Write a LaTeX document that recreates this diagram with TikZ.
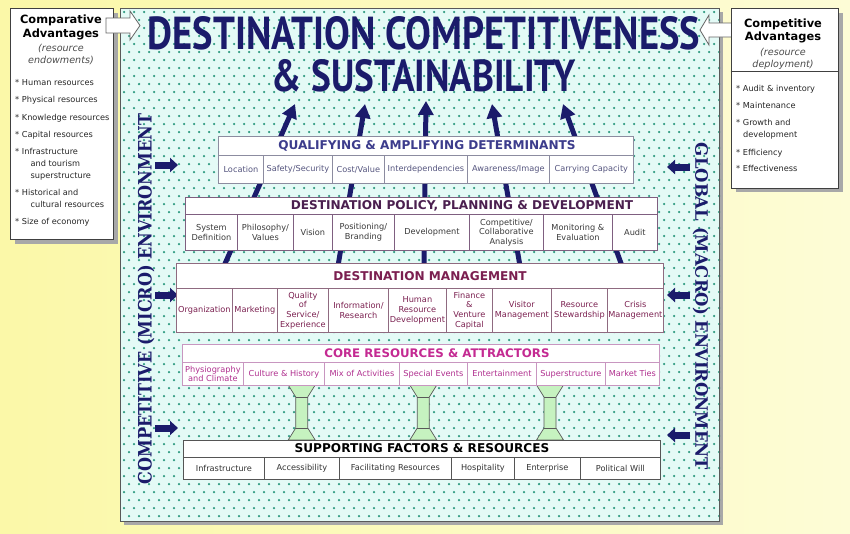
\documentclass[tikz,border=0pt]{standalone}
\usepackage{fontspec}
\usepackage{graphicx}
\setmainfont{DejaVu Sans}
\newfontfamily\titlefont{PT Sans}
\newfontfamily\sidefont{DejaVu Serif}
\usetikzlibrary{arrows.meta}
\definecolor{navy}{HTML}{1B1B6B}
\definecolor{bgl}{HTML}{FBF8A8}
\definecolor{bgr}{HTML}{FDFCD6}
\definecolor{panelfill}{HTML}{E4FAF6}
\definecolor{dotc}{HTML}{2E9A80}
\definecolor{shadowc}{HTML}{A8A8A8}
\definecolor{qline}{HTML}{8C8CA0}
\definecolor{qtext}{HTML}{55557F}
\definecolor{qhead}{HTML}{3C3C8C}
\definecolor{pline}{HTML}{7F5F80}
\definecolor{ptext}{HTML}{3A3A3A}
\definecolor{phead}{HTML}{4B1F4F}
\definecolor{mline}{HTML}{8F6A80}
\definecolor{mtext}{HTML}{7B2050}
\definecolor{mhead}{HTML}{7B1F50}
\definecolor{cline}{HTML}{C896C0}
\definecolor{ctext}{HTML}{B0308F}
\definecolor{chead}{HTML}{C42A92}
\definecolor{sline}{HTML}{555555}
\definecolor{stext}{HTML}{333333}
\definecolor{pillarc}{HTML}{C6F2C0}
\tikzset{
  cellfont/.style={font=\fontsize{8.2}{9.6}\selectfont},
  hdrfont/.style={font=\fontsize{12.1}{14}\selectfont\bfseries},
  bandbox/.style={draw=#1, fill=white, line width=0.8pt, inner sep=0pt, anchor=north west},
  bandcell/.style={bandbox=#1, cellfont, align=center},
  hdrtext/.style={hdrfont, inner sep=0pt},
  fanarrow/.style={draw=navy, line width=5pt, -{Triangle[length=14pt,width=15pt]}},
  smallarrow/.style={draw=navy, line width=7pt, -{Triangle[length=8pt,width=14pt]}},
  blockarrow/.style={draw=gray!80!black, fill=white, line width=0.8pt, line join=miter},
  sidebox/.style={draw=black!75, fill=white, line width=0.8pt, inner sep=0pt, anchor=north west},
  sidehead/.style={font=\fontsize{11.4}{13}\selectfont\bfseries, anchor=base, inner sep=0pt},
  sidesub/.style={font=\fontsize{9.6}{11}\selectfont\itshape, text=black!70, anchor=base, inner sep=0pt},
  sideitem/.style={font=\fontsize{8.2}{10}\selectfont, text=black!85, anchor=base west, inner sep=0pt},
  pillar/.style={draw=black!65, fill=pillarc, line width=0.7pt, line join=round},
}
\begin{document}
\begin{tikzpicture}[x=1pt,y=-1pt]
\useasboundingbox (0,0) rectangle (850,533);
\shade[left color=bgl, right color=bgr] (0,0) rectangle (850,533);

% main panel
\fill[shadowc] (124,12) rectangle (723,525);
\fill[panelfill] (120,8) rectangle (719,521);
\foreach \r in {0,...,63}{
  \foreach \c in {0,...,59}{
    \fill[dotc] ({124+\c*10+mod(\r,2)*5},{12+\r*8}) circle (1.25pt);
  }
}
\draw[gray!70!black, line width=0.8pt] (120,8) rectangle (719,521);

% title
\node[inner sep=0pt, text=navy, font=\titlefont\bfseries] (t1) at (424,33.5)
  {\resizebox{552pt}{33pt}{DESTINATION COMPETITIVENESS}};
\node[inner sep=0pt, text=navy, font=\titlefont\bfseries] (t2) at (423.5,76)
  {\resizebox{303pt}{32pt}{\& SUSTAINABILITY}};

% fan arrows (behind the boxes)
\coordinate (s1) at (224,266); \coordinate (e1) at (295,104);
\coordinate (s2) at (338,266); \coordinate (e2) at (365,104);
\coordinate (s3) at (424,266); \coordinate (e3) at (426,101);
\coordinate (s4) at (520,266); \coordinate (e4) at (492,104);
\coordinate (s5) at (622,266); \coordinate (e5) at (563,104);
\foreach \k in {1,...,5}{\draw[fanarrow] (s\k) -- (e\k);}

% side texts
\node[rotate=90, inner sep=0pt, text=navy, font=\sidefont\bfseries] (lside) at (146,299)
  {\resizebox{370pt}{14pt}{COMPETITIVE (MICRO) ENVIRONMENT}};
\node[rotate=-90, inner sep=0pt, text=navy, font=\sidefont\bfseries] (rside) at (700.5,306.5)
  {\resizebox{327pt}{13pt}{GLOBAL (MACRO) ENVIRONMENT}};

% small arrows
\foreach \y [count=\k] in {165,295,428}{
  \coordinate (la\k) at (155,\y); \coordinate (lb\k) at (178,\y);
  \draw[smallarrow] (la\k) -- (lb\k);
}
\foreach \y [count=\k] in {167,295,435}{
  \coordinate (ra\k) at (690,\y); \coordinate (rb\k) at (667,\y);
  \draw[smallarrow] (ra\k) -- (rb\k);
}

% pillars
\foreach \cx [count=\k] in {301.7,423.3,550}{
  \draw[pillar] ({\cx-13.5},385) -- ({\cx+13.5},385) -- ({\cx+6},397) -- ({\cx+6},428)
     -- ({\cx+13.5},440) -- ({\cx-13.5},440) -- ({\cx-6},428) -- ({\cx-6},397) -- cycle;
  \draw[draw=black!65, line width=0.7pt] ({\cx-6},397) -- ({\cx+6},397);
  \draw[draw=black!65, line width=0.7pt] ({\cx-6},428) -- ({\cx+6},428);
}

% ---------- Qualifying & Amplifying Determinants
\node[bandbox=qline, minimum width=415pt, minimum height=19pt] (qh) at (218,136) {};
\node[hdrtext, text=qhead] (qht) at (427,145.5) {QUALIFYING \& AMPLIFYING DETERMINANTS};
\foreach \a/\b/\t [count=\i] in {218/263/{Location},263/332/{Safety/Security},332/384/{Cost/Value},384/467/{Interdependencies},467/549/{Awareness/Image},549/633/{Carrying Capacity}}{
  \pgfmathsetmacro\w{\b-\a}
  \node[bandcell=qline, text=qtext, minimum width=\w pt, minimum height=28pt] (qc\i) at (\a,155) {\t};
}

% ---------- Destination Policy, Planning & Development
\node[bandbox=pline, minimum width=472pt, minimum height=17pt] (ph) at (185,197) {};
\node[hdrtext, text=phead] (pht) at (462,205.5) {DESTINATION POLICY, PLANNING \& DEVELOPMENT};
\foreach \a/\b/\t [count=\i] in {185/237/{System\\Definition},237/293/{Philosophy/\\Values},293/332/{Vision},332/394/{Positioning/\\Branding},394/469/{Development},469/543/{Competitive/\\Collaborative\\Analysis},543/612/{Monitoring \&\\Evaluation},612/657/{Audit}}{
  \pgfmathsetmacro\w{\b-\a}
  \node[bandcell=pline, text=ptext, minimum width=\w pt, minimum height=36pt] (pc\i) at (\a,214) {\t};
}

% ---------- Destination Management
\node[bandbox=mline, minimum width=487pt, minimum height=25pt] (mh) at (176,263) {};
\node[hdrtext, text=mhead] (mht) at (430,276) {DESTINATION MANAGEMENT};
\foreach \a/\b/\t [count=\i] in {176/232/{Organization},232/277/{Marketing},277/328/{Quality\\of\\Service/\\Experience},328/388/{Information/\\Research},388/446/{Human\\Resource\\Development},446/492/{Finance\\\&\\Venture\\Capital},492/551/{Visitor\\Management},551/607/{Resource\\Stewardship},607/663/{Crisis\\Management}}{
  \pgfmathsetmacro\w{\b-\a}
  \node[bandcell=mline, text=mtext, minimum width=\w pt, minimum height=44pt] (mc\i) at (\a,288) {\t};
}

% ---------- Core Resources & Attractors
\node[bandbox=cline, minimum width=477pt, minimum height=18pt] (ch) at (182,344) {};
\node[hdrtext, text=chead, font=\fontsize{11.8}{14}\selectfont\bfseries] (cht) at (437,353) {CORE RESOURCES \& ATTRACTORS};
\foreach \a/\b/\t [count=\i] in {182/243/{Physiography\\and Climate},243/324/{Culture \& History},324/399/{Mix of Activities},399/467/{Special Events},467/536/{Entertainment},536/605/{Superstructure},605/659/{Market Ties}}{
  \pgfmathsetmacro\w{\b-\a}
  \node[bandcell=cline, text=ctext, minimum width=\w pt, minimum height=23pt] (cc\i) at (\a,362) {\t};
}

% ---------- Supporting Factors & Resources
\node[bandbox=sline, minimum width=477pt, minimum height=17pt] (sh) at (183,440) {};
\node[hdrtext, text=black] (sht) at (422,448.5) {SUPPORTING FACTORS \& RESOURCES};
\foreach \a/\b/\t [count=\i] in {183/264/{Infrastructure},264/339/{Accessibility},339/451/{Facilitating Resources},451/514/{Hospitality},514/580/{Enterprise},580/660/{Political Will}}{
  \pgfmathsetmacro\w{\b-\a}
  \node[bandcell=sline, text=stext, minimum width=\w pt, minimum height=22pt] (sc\i) at (\a,457) {\t};
}

% ---------- block arrows
\draw[blockarrow] (700,30) -- (709,15) -- (709,23) -- (735,23) -- (735,37) -- (709,37) -- (709,45) -- cycle;

% ---------- left box
\fill[shadowc] (15,13) rectangle (118,244);
\node[sidebox, minimum width=103pt, minimum height=231pt] (lbox) at (10,8) {};
\node[sidehead] (lh1) at (61,23.5) {Comparative};
\node[sidehead] (lh2) at (61,37) {Advantages};
\node[sidesub] (lh3) at (61,51.5) {(resource};
\node[sidesub] (lh4) at (61,63.5) {endowments)};
\node[sideitem] (li1) at (15,85) {* Human resources};
\node[sideitem] (li2) at (15,102) {* Physical resources};
\node[sideitem] (li3) at (15,120) {* Knowledge resources};
\node[sideitem] (li4) at (15,137) {* Capital resources};
\node[sideitem] (li5) at (15,154) {* Infrastructure};
\node[sideitem] (li6) at (30.5,166) {and tourism};
\node[sideitem] (li7) at (30.5,178) {superstructure};
\node[sideitem] (li8) at (15,195) {* Historical and};
\node[sideitem] (li9) at (30.5,207) {cultural resources};
\node[sideitem] (li10) at (15,224) {* Size of economy};
\draw[blockarrow] (106,18) -- (130,18) -- (130,11) -- (140,25.5) -- (130,40) -- (130,33) -- (106,33) -- cycle;

% ---------- right box
\fill[shadowc] (735.5,12.5) rectangle (843,192);
\node[sidebox, minimum width=107.5pt, minimum height=180pt] (rbox) at (730.5,8) {};
\node[sidehead] (rh1) at (783,27) {Competitive};
\node[sidehead] (rh2) at (783,40.5) {Advantages};
\node[sidesub] (rh3) at (783,55) {(resource};
\node[sidesub] (rh4) at (783,67) {deployment)};
\coordinate (rd1) at (730.5,71); \coordinate (rd2) at (838,71);
\draw[black!75, line width=0.8pt] (rd1) -- (rd2);
\node[sideitem] (ri1) at (736,91) {* Audit \& inventory};
\node[sideitem] (ri2) at (736,108) {* Maintenance};
\node[sideitem] (ri3) at (736,125) {* Growth and};
\node[sideitem] (ri4) at (743,137.5) {development};
\node[sideitem] (ri5) at (736,155) {* Efficiency};
\node[sideitem] (ri6) at (736,171.5) {* Effectiveness};
\end{tikzpicture}
\end{document}
